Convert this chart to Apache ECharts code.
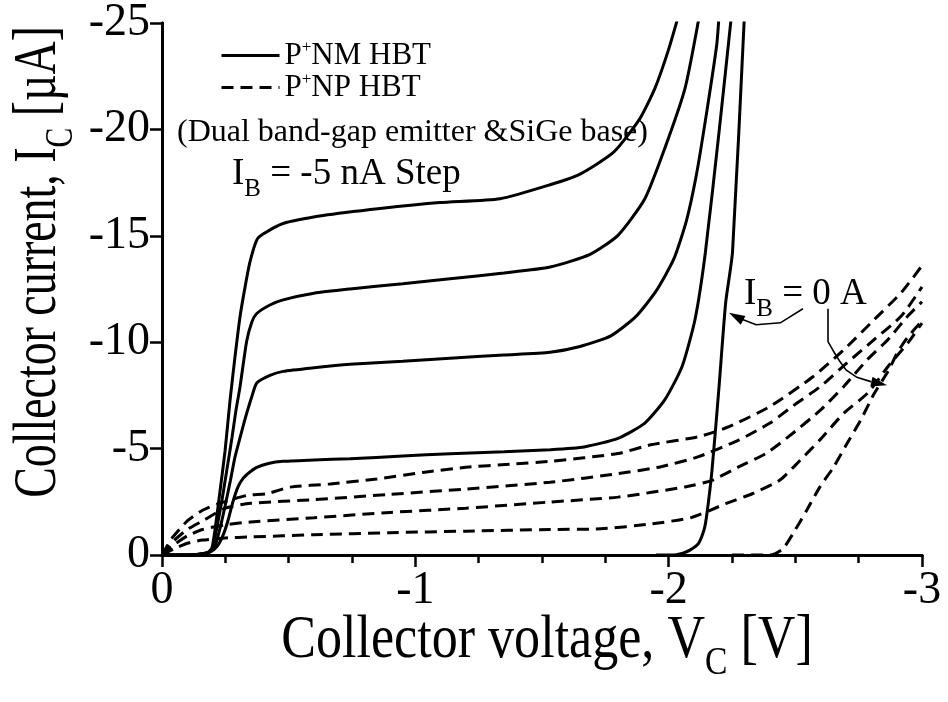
<!DOCTYPE html>
<html><head><meta charset="utf-8">
<script src="https://cdn.jsdelivr.net/npm/echarts@6/dist/echarts.min.js"></script>
<style>html,body{margin:0;padding:0;background:#fff}#c{width:948px;height:702px}</style>
</head><body><div id="c"></div>
<script>
// ---------------- data (V in volts, I in µA) ----------------
const xTickLabels = ['0', '-1', '-2', '-3'];
const yTickLabels = ['0', '-5', '-10', '-15', '-20', '-25'];

// P+NM HBT (solid), I_B = 0, -5, -10, -15, -20 nA
const nmIB0 = [[-1.95,0],[-2.013,0],[-2.056,-0.09],[-2.084,-0.23],[-2.118,-0.55],[-2.14,-1.2],[-2.151,-1.94],[-2.171,-3.98],[-2.199,-7.93],[-2.225,-11.86],[-2.252,-14.23],[-2.30,-25.6]];
const nmIB5 = [[0,0],[-0.1,0],[-0.16,-0.05],[-0.19,-0.15],[-0.217,-0.4],[-0.24,-0.9],[-0.26,-1.6],[-0.28,-2.5],[-0.30,-3.2],[-0.32,-3.6],[-0.347,-3.9],[-0.374,-4.12],[-0.42,-4.3],[-0.478,-4.4],[-0.6,-4.47],[-0.742,-4.52],[-0.95,-4.65],[-1.137,-4.76],[-1.35,-4.85],[-1.532,-4.95],[-1.666,-5.08],[-1.8,-5.48],[-1.906,-6.2],[-1.985,-7.3],[-2.053,-8.86],[-2.104,-11.07],[-2.145,-14.23],[-2.2,-20],[-2.25,-25.6]];
const nmIB10 = [[0,0],[-0.1,0],[-0.16,-0.05],[-0.19,-0.15],[-0.209,-0.4],[-0.23,-1.3],[-0.249,-2.3],[-0.27,-3.5],[-0.288,-4.6],[-0.31,-5.6],[-0.328,-6.4],[-0.355,-7.46],[-0.374,-8.08],[-0.426,-8.44],[-0.478,-8.63],[-0.6,-8.8],[-0.742,-8.96],[-0.95,-9.1],[-1.137,-9.25],[-1.35,-9.4],[-1.532,-9.53],[-1.65,-9.8],[-1.772,-10.3],[-1.87,-11.2],[-1.95,-12.4],[-2.02,-13.9],[-2.07,-15.7],[-2.11,-17.9],[-2.15,-20.8],[-2.19,-24.0],[-2.2,-25.6]];
const nmIB15 = [[0,0],[-0.1,0],[-0.16,-0.05],[-0.19,-0.15],[-0.2,-0.33],[-0.22,-1.5],[-0.237,-2.6],[-0.256,-4.0],[-0.276,-5.5],[-0.292,-6.8],[-0.308,-7.9],[-0.334,-10.03],[-0.355,-10.96],[-0.374,-11.35],[-0.426,-11.75],[-0.478,-11.99],[-0.6,-12.3],[-0.742,-12.5],[-0.95,-12.75],[-1.137,-12.98],[-1.35,-13.25],[-1.532,-13.53],[-1.69,-14.13],[-1.8,-15.02],[-1.906,-16.74],[-1.985,-19.12],[-2.065,-21.95],[-2.125,-25.6]];
const nmIB20 = [[0,0],[-0.1,0],[-0.15,-0.05],[-0.18,-0.12],[-0.197,-0.33],[-0.209,-1.17],[-0.229,-3.0],[-0.249,-4.9],[-0.268,-7.2],[-0.288,-9.3],[-0.308,-11.2],[-0.328,-12.6],[-0.347,-13.76],[-0.374,-14.8],[-0.399,-15.08],[-0.478,-15.58],[-0.636,-15.95],[-0.861,-16.28],[-1.097,-16.56],[-1.334,-16.74],[-1.532,-17.4],[-1.65,-17.9],[-1.784,-18.94],[-1.887,-20.52],[-1.946,-21.94],[-1.998,-23.69],[-2.045,-25.6]];

// P+NP HBT (dashed), I_B = 0, -5, -10, -15, -20 nA
const npIB0 = [[-2.25,0],[-2.4,0],[-2.45,-0.28],[-2.49,-0.99],[-2.545,-2.1],[-2.597,-3.2],[-2.652,-4.15],[-2.704,-5.24],[-2.758,-6.34],[-2.812,-7.6],[-2.866,-8.63],[-2.905,-9.56],[-2.945,-10.26],[-3.0,-11.0]];
const npIB5 = [[0,0],[-0.05,-0.3],[-0.1,-0.55],[-0.16,-0.7],[-0.25,-0.8],[-0.35,-0.85],[-0.6,-0.95],[-0.9,-1.05],[-1.2,-1.12],[-1.532,-1.2],[-1.732,-1.23],[-1.932,-1.46],[-2.092,-1.77],[-2.225,-2.41],[-2.332,-2.89],[-2.438,-3.51],[-2.519,-4.45],[-2.597,-5.41],[-2.692,-6.67],[-2.785,-7.6],[-2.866,-8.86],[-2.945,-9.98],[-3.0,-10.9]];
const npIB10 = [[0,0],[-0.05,-0.5],[-0.1,-0.9],[-0.16,-1.2],[-0.25,-1.42],[-0.35,-1.55],[-0.6,-1.75],[-0.9,-2.0],[-1.2,-2.2],[-1.532,-2.49],[-1.8,-2.72],[-2.065,-3.2],[-2.171,-3.51],[-2.278,-4.15],[-2.384,-4.77],[-2.49,-5.72],[-2.6,-6.82],[-2.692,-7.93],[-2.785,-9.19],[-2.866,-10.13],[-2.945,-11.24],[-3.0,-11.9]];
const npIB15 = [[0,0],[-0.05,-0.7],[-0.1,-1.2],[-0.16,-1.6],[-0.25,-2.2],[-0.35,-2.43],[-0.6,-2.6],[-0.9,-2.85],[-1.2,-3.1],[-1.532,-3.42],[-1.8,-3.82],[-1.97,-4.15],[-2.118,-4.62],[-2.278,-5.41],[-2.4,-6.2],[-2.49,-7.0],[-2.6,-7.93],[-2.704,-9.03],[-2.812,-10.13],[-2.919,-11.24],[-3.0,-12.6]];
const npIB20 = [[0,0],[-0.04,-0.8],[-0.1,-1.6],[-0.16,-2.1],[-0.22,-2.4],[-0.335,-2.8],[-0.414,-2.88],[-0.506,-3.19],[-0.664,-3.34],[-0.848,-3.57],[-1.03,-3.88],[-1.2,-4.12],[-1.373,-4.27],[-1.532,-4.4],[-1.8,-4.77],[-1.93,-5.18],[-2.118,-5.56],[-2.238,-6.03],[-2.4,-6.98],[-2.572,-8.4],[-2.692,-9.65],[-2.812,-11.07],[-2.919,-12.34],[-3.0,-13.6]];

const nmCurves = [nmIB0, nmIB5, nmIB10, nmIB15, nmIB20];
const npCurves = [npIB0, npIB5, npIB10, npIB15, npIB20];
const nmName = 'P+NM HBT';
const npName = 'P+NP HBT';

// ---------------- layout / style ----------------
const FONT = '"Liberation Serif", "Times New Roman", serif';
const DASH = [12, 7];
const chart = echarts.init(document.getElementById('c'), null, {renderer: 'canvas'});

function mk(curves, name, type) {
  return curves.map(d => ({
    type: 'line', name: name, data: d, showSymbol: false, symbol: 'none',
    smooth: 0.2, clip: true, animation: false, color: '#000',
    itemStyle: {color: '#000'},
    lineStyle: {color: '#000', width: 3, type: type}
  }));
}

const axisLine = {show: true, lineStyle: {color: '#000', width: 3}};
const option = {
  backgroundColor: '#fff',
  animation: false,
  grid: {left: 162, top: 19, width: 760, height: 536, containLabel: false},
  legend: {
    data: [nmName, npName], orient: 'vertical', left: 215, top: 34,
    itemWidth: 58, itemHeight: 14, itemGap: 0, selectedMode: false,
    itemStyle: {opacity: 0},
    lineStyle: {width: 3, color: '#000'},
    formatter: n => n === nmName ? '{a|P}{s|+}{a|NM HBT}' : '{a|P}{s|+}{a|NP HBT}',
    textStyle: {color: '#000', fontFamily: FONT, fontSize: 31,
      rich: {a: {fontFamily: FONT, fontSize: 31, color: '#000'},
             s: {fontFamily: FONT, fontSize: 17, color: '#000', padding: [0, 0, 16, 0]}}}
  },
  xAxis: [{
    type: 'value', position: 'bottom', min: -3, max: 0, interval: 1, inverse: true,
    axisLine: axisLine,
    axisTick: {show: true, inside: false, length: 12, lineStyle: {color: '#000', width: 2.5}},
    minorTick: {show: true, splitNumber: 4, length: 8, lineStyle: {color: '#000', width: 2.5}},
    splitLine: {show: false}, minorSplitLine: {show: false},
    axisLabel: {color: '#000', fontFamily: FONT, fontSize: 46, margin: 13,
      formatter: v => xTickLabels[Math.round(-v)]}
  }, {
    type: 'value', position: 'top', min: -3, max: 0, interval: 1, inverse: true,
    axisLine: axisLine,
    axisTick: {show: true, inside: true, length: 8, lineStyle: {color: '#000', width: 2.5}},
    minorTick: {show: true, splitNumber: 4, length: 8, lineStyle: {color: '#000', width: 2.5}},
    splitLine: {show: false}, axisLabel: {show: false}
  }],
  yAxis: [{
    type: 'value', position: 'left', min: -25, max: 0, interval: 5, inverse: true,
    axisLine: axisLine,
    axisTick: {show: true, inside: false, length: 12, lineStyle: {color: '#000', width: 2.5}},
    splitLine: {show: false},
    axisLabel: {color: '#000', fontFamily: FONT, fontSize: 46, margin: 12,
      formatter: v => yTickLabels[Math.round(-v / 5)]}
  }, {
    type: 'value', position: 'right', min: -25, max: 0, interval: 5, inverse: true,
    axisLine: axisLine,
    axisTick: {show: true, inside: true, length: 11, lineStyle: {color: '#000', width: 2.5}},
    splitLine: {show: false}, axisLabel: {show: false}
  }],
  series: mk(nmCurves, nmName, 'solid').concat(mk(npCurves, npName, DASH))
};
chart.setOption(option);

// ---------------- annotations ----------------
const arrow1 = [[-2.530,-11.57],[-2.441,-10.91],[-2.345,-10.82],[-2.274,-11.15],[-2.238,-11.38]];
const arrow2 = [[-2.629,-11.57],[-2.629,-10.03],[-2.652,-9.55],[-2.676,-9.09],[-2.70,-8.7],[-2.743,-8.35],[-2.795,-8.16],[-2.862,-7.98]];

function toPx(pts) { return pts.map(p => chart.convertToPixel({gridIndex: 0}, p)); }
function arrowEls(pts) {
  const px = toPx(pts);
  const tip = px[px.length - 1], prev = px[px.length - 2];
  const dx = tip[0] - prev[0], dy = tip[1] - prev[1];
  const L = Math.hypot(dx, dy), ux = dx / L, uy = dy / L;
  const hl = 16, hw = 5;
  const bx = tip[0] - ux * hl, by = tip[1] - uy * hl;
  const head = [tip, [bx - uy * hw, by + ux * hw], [bx + uy * hw, by - ux * hw]];
  const line = px.slice(0, -1).concat([[bx, by]]);
  return [
    {type: 'polyline', shape: {points: line}, style: {stroke: '#000', lineWidth: 1.6, fill: null}, z: 50},
    {type: 'polygon', shape: {points: head}, style: {fill: '#000'}, z: 50}
  ];
}

const richMain = (fs, sub, padTop) => ({
  a: {fontFamily: FONT, fontSize: fs, color: '#000'},
  b: {fontFamily: FONT, fontSize: sub, color: '#000', padding: [padTop, 0, 0, 0]}
});

chart.setOption({graphic: [
  {type: 'text', left: 177, top: 117, z: 60,
   style: {text: '(Dual band-gap emitter &SiGe base)', font: '32px ' + FONT, fill: '#000'}},
  {type: 'text', x: 232, y: 174, z: 60,
   style: {text: '{a|I}{b|B}{a| = -5 nA Step}', verticalAlign: 'middle', align: 'left',
           rich: richMain(37, 25, 30)}},
  {type: 'text', x: 744, y: 294, z: 60,
   style: {text: '{a|I}{b|B}{a| = 0 A}', verticalAlign: 'middle', align: 'left',
           rich: richMain(37, 25, 30)}},
  {type: 'text', x: 547, y: 641, scaleX: 0.84, z: 60,
   style: {text: '{a|Collector voltage, V}{b|C}{a| [V]}', verticalAlign: 'middle', align: 'center',
           rich: richMain(62, 40, 44)}},
  {type: 'text', x: 39, y: 262, rotation: Math.PI / 2, scaleX: 0.74, z: 60,
   style: {text: '{a|Collector current, I}{b|C}{a| [µA]}', verticalAlign: 'middle', align: 'center',
           rich: richMain(62, 40, 44)}}
].concat(arrowEls(arrow1), arrowEls(arrow2))});
</script>
</body></html>
